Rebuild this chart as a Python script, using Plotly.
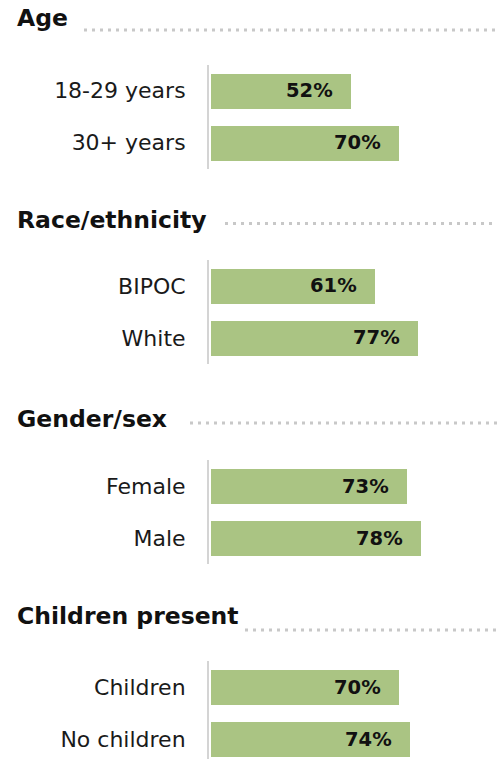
import plotly.graph_objects as go

W, H = 502, 759

# ---- data ----
groups = ["Age", "Race/ethnicity", "Gender/sex", "Children present"]
categories = [
    ["18-29 years", "30+ years"],
    ["BIPOC", "White"],
    ["Female", "Male"],
    ["Children", "No children"],
]
values = [
    [52, 70],
    [61, 77],
    [73, 78],
    [70, 74],
]

# ---- layout constants (pixels) ----
first_bar_center = [90.5, 286, 486, 687]
row_step = 52
bar_px = 35
heading_center = [18, 220, 418.5, 616]
dot_start = [84, 225, 190, 245]
dot_y = [30, 223.5, 423, 630]
dot_end = 497
axis_left = 209
px_per_unit = 2.69

BAR_COLOR = "#aac483"
FONT = "DejaVu Sans"
TEXT = "#1a1a1a"


def py(p):
    return 1 - p / H


fig = go.Figure()
x0 = -2 / px_per_unit
x_dom = [axis_left / W, (axis_left + (100 - x0) * px_per_unit) / W]

for g, (cats, vals) in enumerate(zip(categories, values)):
    n = g + 1
    xa = "x" if n == 1 else f"x{n}"
    ya = "y" if n == 1 else f"y{n}"
    fig.add_trace(go.Bar(
        x=vals, y=cats, orientation="h", xaxis=xa, yaxis=ya,
        width=bar_px / row_step, marker=dict(color=BAR_COLOR, line=dict(width=0)),
        hoverinfo="skip", showlegend=False,
    ))
    top = first_bar_center[g] - row_step / 2
    bottom = min(top + row_step * len(cats), H)
    rmax = -0.5 + (bottom - top) / row_step
    fig.layout[f"xaxis{'' if n == 1 else n}"] = dict(
        domain=x_dom, range=[x0, 100], visible=False, anchor=ya,
        fixedrange=True,
    )
    fig.layout[f"yaxis{'' if n == 1 else n}"] = dict(
        domain=[py(bottom), py(top)], anchor=xa,
        type="category", categoryorder="array", categoryarray=cats,
        range=[rmax, -0.5],
        showline=True, linecolor="#d4d4d4", linewidth=2,
        showgrid=False, zeroline=False,
        ticks="outside", ticklen=17, tickcolor="rgba(0,0,0,0)",
        tickfont=dict(family=FONT, size=22, color=TEXT),
        fixedrange=True,
    )
    for c, v in zip(cats, vals):
        fig.add_annotation(
            x=v, y=c, xref=xa, yref=ya, text=f"<b>{v}%</b>",
            xanchor="right", yanchor="middle", xshift=-16, showarrow=False,
            font=dict(family=FONT, size=19.5, color="#111111"),
        )
    fig.add_annotation(
        x=15 / W, y=py(heading_center[g]), xref="paper", yref="paper",
        text=f"<b>{groups[g]}</b>", xanchor="left", yanchor="middle",
        showarrow=False, font=dict(family=FONT, size=23.5, color="#111111"),
    )
    fig.add_shape(
        type="line", xref="paper", yref="paper",
        x0=dot_start[g] / W, x1=dot_end / W, y0=py(dot_y[g]), y1=py(dot_y[g]),
        line=dict(color="#c8c8c8", width=3, dash="3px,5px"),
    )

fig.update_layout(
    width=W, height=H, margin=dict(l=0, r=0, t=0, b=0),
    paper_bgcolor="white", plot_bgcolor="white",
    bargap=0,
)

fig.write_html("out.html")
